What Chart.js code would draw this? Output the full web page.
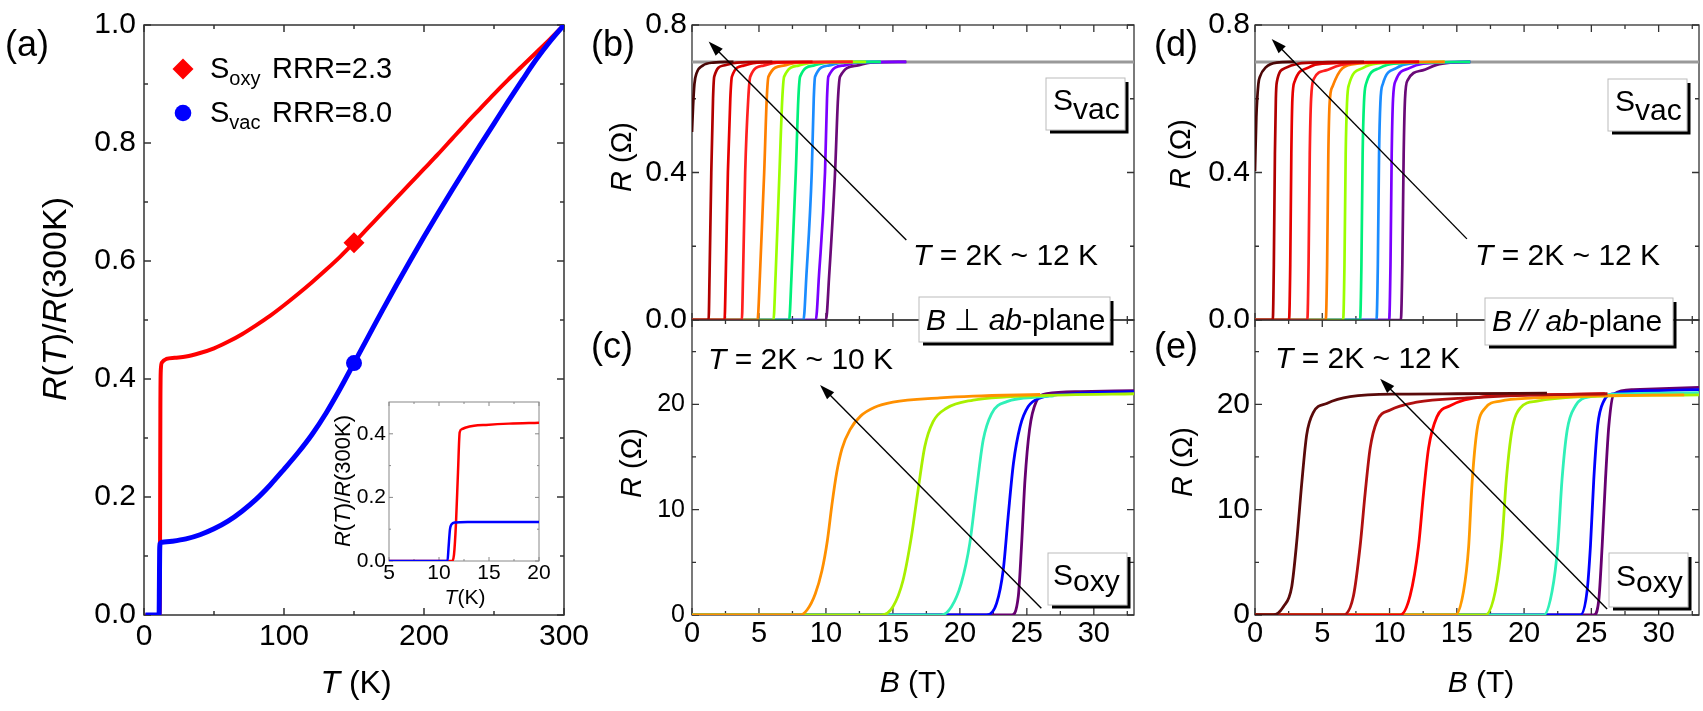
<!DOCTYPE html>
<html>
<head>
<meta charset="utf-8">
<script src="https://cdn.jsdelivr.net/npm/chart.js@4.4.1/dist/chart.umd.min.js"></script>
<style>
html, body { margin: 0; padding: 0; background: #fff; }
#fig { position: relative; width: 1703px; height: 711px; overflow: hidden; }
#fig canvas { position: absolute; left: 0; top: 0; width: 1703px; height: 711px; }
#ann { position: absolute; left: 0; top: 0; }
</style>
</head>
<body>
<div id="fig">
  <canvas id="chartA" width="1703" height="711"></canvas>
  <canvas id="chartIn" width="1703" height="711"></canvas>
  <canvas id="chartB" width="1703" height="711"></canvas>
  <canvas id="chartC" width="1703" height="711"></canvas>
  <canvas id="chartD" width="1703" height="711"></canvas>
  <canvas id="chartE" width="1703" height="711"></canvas>
  <svg id="ann" width="1703" height="711" font-family="'Liberation Sans', Arial, sans-serif" fill="#000">
    <g id="boxes"></g>
    <g font-size="36">
      <text x="5" y="56">(a)</text>
      <text x="591" y="56">(b)</text>
      <text x="591" y="358">(c)</text>
      <text x="1154" y="56">(d)</text>
      <text x="1154" y="358">(e)</text>
    </g>
    <!-- (a) titles and legend -->
    <text transform="translate(66,299) rotate(-90)" text-anchor="middle" font-size="34"><tspan font-style="italic">R</tspan>(<tspan font-style="italic">T</tspan>)/<tspan font-style="italic">R</tspan>(300K)</text>
    <text x="356" y="693" text-anchor="middle" font-size="32"><tspan font-style="italic">T</tspan> (K)</text>
    <polygon points="172.5,69 183,58.5 193.5,69 183,79.5" fill="#ff0000"/>
    <circle cx="183" cy="113" r="8.3" fill="#0000ff"/>
    <text x="210" y="78" font-size="29">S<tspan font-size="20" dy="7">oxy</tspan><tspan x="272" dy="-7">RRR=2.3</tspan></text>
    <text x="210" y="122" font-size="29">S<tspan font-size="20" dy="7">vac</tspan><tspan x="272" dy="-7">RRR=8.0</tspan></text>
    <!-- inset titles -->
    <text transform="translate(350,481) rotate(-90)" text-anchor="middle" font-size="22"><tspan font-style="italic">R</tspan>(<tspan font-style="italic">T</tspan>)/<tspan font-style="italic">R</tspan>(300K)</text>
    <text x="465" y="604" text-anchor="middle" font-size="21"><tspan font-style="italic">T</tspan>(K)</text>
    <!-- (b)-(e) axis titles -->
    <text transform="translate(631,157) rotate(-90)" text-anchor="middle" font-size="29"><tspan font-style="italic">R</tspan> (Ω)</text>
    <text transform="translate(641,463) rotate(-90)" text-anchor="middle" font-size="29"><tspan font-style="italic">R</tspan> (Ω)</text>
    <text transform="translate(1190,154) rotate(-90)" text-anchor="middle" font-size="29"><tspan font-style="italic">R</tspan> (Ω)</text>
    <text transform="translate(1192,462) rotate(-90)" text-anchor="middle" font-size="29"><tspan font-style="italic">R</tspan> (Ω)</text>
    <text x="913" y="692" text-anchor="middle" font-size="30"><tspan font-style="italic">B</tspan> (T)</text>
    <text x="1481" y="692" text-anchor="middle" font-size="30"><tspan font-style="italic">B</tspan> (T)</text>
    <!-- temperature notes -->
    <g font-size="30">
      <text x="913" y="265"><tspan font-style="italic">T</tspan> = 2K ~ 12 K</text>
      <text x="708" y="369"><tspan font-style="italic">T</tspan> = 2K ~ 10 K</text>
      <text x="1475" y="265"><tspan font-style="italic">T</tspan> = 2K ~ 12 K</text>
      <text x="1275" y="368"><tspan font-style="italic">T</tspan> = 2K ~ 12 K</text>
    </g>
    <g id="boxText" font-size="30">
      <text x="1053" y="110">S<tspan dy="9">vac</tspan></text>
      <text x="1053" y="585">S<tspan dy="6">oxy</tspan></text>
      <text x="1615" y="111">S<tspan dy="9">vac</tspan></text>
      <text x="1616" y="586">S<tspan dy="6">oxy</tspan></text>
      <text x="926" y="330"><tspan font-style="italic">B</tspan> ⊥ <tspan font-style="italic">ab</tspan>-plane</text>
      <text x="1492" y="331"><tspan font-style="italic">B</tspan> <tspan font-style="italic">//</tspan> <tspan font-style="italic">ab</tspan>-plane</text>
    </g>
  </svg>
</div>
<script>
// ---- (a) R(T)/R(300K) vs T ----
const tOxy = [1, 11.0, 11.3, 11.5, 11.7, 12.0, 12.8, 16, 22, 30, 40, 50, 60, 70, 80, 90, 100, 110, 120, 130, 140, 150, 160, 170, 180, 190, 200, 210, 220, 230, 240, 250, 260, 270, 280, 290, 300];
const rOxy = [0, 0, 0.02, 0.15, 0.35, 0.415, 0.428, 0.434, 0.436, 0.438, 0.444, 0.452, 0.463, 0.476, 0.491, 0.507, 0.525, 0.544, 0.564, 0.585, 0.607, 0.631, 0.656, 0.681, 0.706, 0.731, 0.756, 0.781, 0.807, 0.833, 0.858, 0.883, 0.907, 0.930, 0.953, 0.976, 1.0];
const tVac = [1, 10.8, 11.0, 11.2, 11.5, 13, 20, 30, 40, 50, 60, 70, 80, 90, 100, 110, 120, 130, 140, 150, 160, 170, 180, 190, 200, 210, 220, 230, 240, 250, 260, 270, 280, 290, 300];
const rVac = [0, 0, 0.05, 0.11, 0.121, 0.1232, 0.125, 0.129, 0.136, 0.146, 0.159, 0.176, 0.196, 0.220, 0.247, 0.275, 0.306, 0.342, 0.383, 0.427, 0.471, 0.515, 0.558, 0.600, 0.641, 0.681, 0.720, 0.758, 0.796, 0.833, 0.870, 0.906, 0.941, 0.972, 1.0];
const markT = [150];
const markOxy = [0.631];
const markVac = [0.427];

// ---- inset ----
const tInOxy = [5, 11.3, 11.5, 11.7, 11.9, 12.07, 12.3, 12.7, 13.5, 14.7, 17, 20];
const rInOxy = [0, 0, 0.02, 0.12, 0.28, 0.405, 0.415, 0.42, 0.425, 0.428, 0.432, 0.435];
const tInVac = [5, 10.85, 10.95, 11.1, 11.25, 11.6, 13, 20];
const rInVac = [0, 0, 0.04, 0.1, 0.115, 0.121, 0.1225, 0.123];

// ---- (b) S_vac, B perpendicular: [B (T), R (ohm)] ----
const b11K = [[0, 0.51], [0.08, 0.58], [0.18, 0.64], [0.35, 0.67], [0.8, 0.69], [1.6, 0.698], [3.1, 0.7]];
const b10K = [[0, 0], [1.24, 0], [1.31, 0.12], [1.44, 0.4], [1.57, 0.6], [1.66, 0.66], [2.36, 0.69], [3.36, 0.698], [6, 0.7]];
const b9K = [[0, 0], [2.43, 0], [2.52, 0.12], [2.68, 0.4], [2.86, 0.6], [2.98, 0.66], [3.85, 0.69], [4.85, 0.698], [9, 0.7]];
const b8K = [[0, 0], [3.72, 0], [3.81, 0.12], [3.97, 0.4], [4.2, 0.6], [4.35, 0.66], [5.34, 0.69], [6.34, 0.698], [12, 0.7]];
const b7K = [[0, 0], [4.89, 0], [5.07, 0.12], [5.39, 0.4], [5.58, 0.6], [5.71, 0.66], [6.83, 0.69], [7.83, 0.698], [12, 0.7]];
const b6K = [[0, 0], [6.08, 0], [6.24, 0.12], [6.53, 0.4], [6.74, 0.6], [6.88, 0.66], [7.95, 0.69], [8.95, 0.698], [13, 0.7]];
const b5K = [[0, 0], [7.25, 0], [7.43, 0.12], [7.75, 0.4], [7.94, 0.6], [8.07, 0.66], [9.07, 0.69], [10.07, 0.698], [14.1, 0.7]];
const b4K = [[0, 0], [8.32, 0], [8.54, 0.12], [8.94, 0.4], [9.09, 0.6], [9.19, 0.66], [10.18, 0.69], [11.18, 0.698], [14.1, 0.7]];
const b3K = [[0, 0], [9.24, 0], [9.48, 0.12], [9.93, 0.4], [10.08, 0.6], [10.18, 0.66], [11.3, 0.69], [12.3, 0.698], [16, 0.7]];
const b2K = [[0, 0], [10.0, 0], [10.24, 0.12], [10.68, 0.4], [10.9, 0.6], [11.05, 0.66], [12.3, 0.69], [13.3, 0.698], [16, 0.7]];
const b12K = [[0, 0.7], [33, 0.7]];

// ---- (c) S_oxy, B perpendicular ----
const c10K = [[0, 0], [8.07, 0], [8.6, 0.5], [9.2, 2.0], [9.7, 4.2], [10.1, 7.0], [10.45, 10.5], [10.8, 13.5], [11.2, 15.8], [11.8, 17.6], [12.6, 18.9], [13.6, 19.7], [15, 20.2], [18.5, 20.6], [21.0, 20.77], [26, 20.93]];
const c8K = [[0, 0], [14.16, 0], [15.0, 0.78], [15.76, 3.3], [16.38, 7.44], [16.88, 11.87], [17.38, 15.98], [18.0, 18.35], [19.0, 19.62], [21.0, 20.4], [23.5, 20.7], [28, 20.9], [33, 21.0]];
const c6K = [[0, 0], [18.62, 0], [19.37, 0.78], [20.1, 3.0], [20.74, 6.8], [21.24, 11.87], [21.74, 16.6], [22.36, 19.1], [23.5, 20.25], [26, 20.7], [27, 20.8]];
const c4K = [[0, 0], [22.0, 0], [22.74, 1.1], [23.24, 4.3], [23.6, 9.3], [24.0, 14.4], [24.5, 17.9], [25.1, 19.78], [26.0, 20.6], [28.5, 21.0], [33, 21.2]];
const c2K = [[0, 0], [23.86, 0], [24.36, 1.74], [24.6, 6.5], [24.86, 12.8], [25.2, 17.6], [25.7, 20.25], [26.5, 21.0], [29, 21.2], [33, 21.3]];

// ---- (d) S_vac, B parallel ----
const d11K = [[0, 0.404], [0.1, 0.55], [0.25, 0.64], [0.37, 0.66], [0.8, 0.685], [1.61, 0.698], [2.9, 0.7]];
const d10K = [[0, 0], [1.32, 0], [1.4, 0.15], [1.48, 0.45], [1.55, 0.6], [1.62, 0.645], [2.23, 0.683], [3.2, 0.695], [5, 0.699], [8.1, 0.7]];
const d9K = [[0, 0], [2.53, 0], [2.62, 0.15], [2.7, 0.45], [2.78, 0.6], [2.95, 0.647], [4.0, 0.685], [5.0, 0.695], [12.2, 0.7]];
const d8K = [[0, 0], [3.89, 0], [3.98, 0.15], [4.07, 0.45], [4.17, 0.6], [4.39, 0.655], [5.26, 0.677], [6.25, 0.69], [7.5, 0.697], [12.2, 0.7]];
const d7K = [[0, 0], [5.26, 0], [5.36, 0.15], [5.45, 0.45], [5.55, 0.59], [5.77, 0.634], [6.5, 0.683], [7.6, 0.695], [14.1, 0.7]];
const d6K = [[0, 0], [6.55, 0], [6.65, 0.15], [6.74, 0.45], [6.84, 0.59], [7.0, 0.64], [8.0, 0.683], [9.0, 0.695], [14.1, 0.7]];
const d5K = [[0, 0], [7.81, 0], [7.91, 0.15], [8.0, 0.45], [8.1, 0.59], [8.25, 0.64], [9.25, 0.683], [10.3, 0.695], [16, 0.7]];
const d4K = [[0, 0], [9.03, 0], [9.13, 0.15], [9.22, 0.45], [9.32, 0.59], [9.5, 0.64], [10.5, 0.683], [11.5, 0.695], [16, 0.7]];
const d3K = [[0, 0], [9.97, 0], [10.07, 0.15], [10.16, 0.45], [10.26, 0.6], [10.47, 0.65], [11.47, 0.683], [12.5, 0.695], [16, 0.7]];
const d2K = [[0, 0], [10.84, 0], [10.95, 0.15], [11.05, 0.45], [11.15, 0.6], [11.34, 0.65], [12.45, 0.677], [13.5, 0.692], [14.5, 0.698], [16, 0.7]];
const d12K = [[0, 0.7], [33, 0.7]];

// ---- (e) S_oxy, B parallel ----
const e12K = [[0, 0], [1.36, 0], [2.11, 0.78], [2.73, 2.69], [3.1, 6.93], [3.47, 12.44], [3.84, 17.1], [4.34, 19.23], [5.33, 20.08], [7.07, 20.72], [10.79, 20.97], [15, 21.0], [21.7, 21.05]];
const e10K = [[0, 0], [6.57, 0], [7.32, 1.83], [7.81, 6.5], [8.19, 11.6], [8.56, 15.84], [9.06, 18.38], [10.05, 19.45], [12.03, 20.2], [15.75, 20.6], [20, 20.85], [26.2, 21.0]];
const e9K = [[0, 0], [10.79, 0], [11.53, 1.83], [12.15, 6.5], [12.53, 11.6], [12.9, 15.84], [13.52, 18.8], [14.5, 19.86], [17.0, 20.72], [21, 20.9], [26, 21.0]];
const e8K = [[0, 0], [14.88, 0], [15.5, 2.26], [15.88, 6.5], [16.13, 12.44], [16.5, 17.54], [17.12, 19.66], [18.24, 20.3], [20.7, 20.6], [25, 20.8], [31.9, 20.9]];
const e7K = [[0, 0], [17.11, 0], [17.86, 2.26], [18.35, 6.93], [18.68, 12.87], [19.1, 17.54], [19.72, 19.66], [20.96, 20.3], [24, 20.7], [33, 20.9]];
const e5K = [[0, 0], [21.46, 0], [22.08, 2.26], [22.5, 6.5], [22.82, 12.87], [23.2, 17.54], [23.82, 19.86], [24.94, 20.72], [28, 21.0], [33, 21.1]];
const e3K = [[0, 0], [24.18, 0], [24.68, 2.26], [24.93, 6.5], [25.18, 12.87], [25.47, 17.97], [25.92, 20.3], [26.67, 21.0], [30, 21.3], [33, 21.4]];
const e2K = [[0, 0], [25.18, 0], [25.55, 1.4], [25.8, 6.5], [26.05, 12.87], [26.3, 17.97], [26.67, 20.97], [28.1, 21.4], [33, 21.6]];

// ---- tick values ----
const tickA_x = [0, 100, 200, 300];
const tickA_xMinor = [50, 150, 250];
const tickA_y = [0, 0.2, 0.4, 0.6, 0.8, 1.0];
const tickA_yMinor = [0.1, 0.3, 0.5, 0.7, 0.9];
const tickIn_x = [5, 10, 15, 20];
const tickIn_xMinor = [7.5, 12.5, 17.5];
const tickIn_y = [0, 0.2, 0.4];
const tickIn_yMinor = [0.1, 0.3];
const tickB_x = [0, 5, 10, 15, 20, 25, 30];
const tickB_xMinor = [2.5, 7.5, 12.5, 17.5, 22.5, 27.5, 32.5];
const tickTop_y = [0, 0.4, 0.8];
const tickTop_yMinor = [0.2, 0.6];
const tickBot_y = [0, 10, 20];
const tickBot_yMinor = [5, 15, 25];

Chart.defaults.font.family = '"Liberation Sans", Arial, sans-serif';
Chart.defaults.color = '#000';

// frame with inward ticks on all four sides
const framePlugin = {
    id: 'frame',
    beforeDatasetsDraw(chart, args, o) {
        const ctx = chart.ctx;
        const a = chart.chartArea;
        const sx = chart.scales.x, sy = chart.scales.y;
        ctx.save();
        if (o.fill) {
            ctx.fillStyle = o.fill;
            ctx.fillRect(a.left, a.top, a.right - a.left, a.bottom - a.top);
        }
        ctx.strokeStyle = o.color;
        ctx.lineWidth = o.width;
        ctx.strokeRect(a.left, a.top, a.right - a.left, a.bottom - a.top);
        ctx.beginPath();
        const tickX = (vals, len) => vals.forEach(v => {
            const p = sx.getPixelForValue(v);
            ctx.moveTo(p, a.bottom); ctx.lineTo(p, a.bottom - len);
            ctx.moveTo(p, a.top); ctx.lineTo(p, a.top + len);
        });
        const tickY = (vals, len) => vals.forEach(v => {
            const p = sy.getPixelForValue(v);
            ctx.moveTo(a.left, p); ctx.lineTo(a.left + len, p);
            ctx.moveTo(a.right, p); ctx.lineTo(a.right - len, p);
        });
        tickX(o.xMajor, o.major); tickX(o.xMinor, o.minor);
        tickY(o.yMajor, o.major); tickY(o.yMinor, o.minor);
        ctx.stroke();
        ctx.restore();
    }
};

// arrow given in data coordinates
const arrowPlugin = {
    id: 'arrow',
    afterDatasetsDraw(chart, args, o) {
        if (!o || !o.from) return;
        const ctx = chart.ctx;
        const sx = chart.scales.x, sy = chart.scales.y;
        const x1 = sx.getPixelForValue(o.from[0]), y1 = sy.getPixelForValue(o.from[1]);
        const x2 = sx.getPixelForValue(o.to[0]), y2 = sy.getPixelForValue(o.to[1]);
        const ang = Math.atan2(y2 - y1, x2 - x1);
        const L = 15, W = 5;
        const c = Math.cos(ang), s = Math.sin(ang);
        ctx.save();
        ctx.strokeStyle = '#000';
        ctx.fillStyle = '#000';
        ctx.lineWidth = 1.4;
        ctx.beginPath();
        ctx.moveTo(x1, y1);
        ctx.lineTo(x2 - L * 0.8 * c, y2 - L * 0.8 * s);
        ctx.stroke();
        ctx.beginPath();
        ctx.moveTo(x2, y2);
        ctx.lineTo(x2 - L * c + W * s, y2 - L * s - W * c);
        ctx.lineTo(x2 - L * c - W * s, y2 - L * s + W * c);
        ctx.closePath();
        ctx.fill();
        ctx.restore();
    }
};

function xy(xs, ys) {
    return xs.map((x, i) => ({ x: x, y: ys[i] }));
}

function curve(pts, color, w) {
    return {
        data: pts.map(p => ({ x: p[0], y: p[1] })),
        borderColor: color,
        borderWidth: w,
        pointRadius: 0,
        fill: false,
        cubicInterpolationMode: 'monotone'
    };
}

function makePanel(id, p) {
    return new Chart(document.getElementById(id), {
        type: 'line',
        data: { datasets: p.datasets },
        options: {
            responsive: false,
            animation: false,
            devicePixelRatio: 1,
            events: [],
            layout: { padding: p.pad },
            plugins: {
                legend: { display: false },
                tooltip: { enabled: false },
                frame: p.frame,
                arrow: p.arrow || {}
            },
            scales: {
                x: {
                    type: 'linear',
                    min: p.xMin,
                    max: p.xMax,
                    display: p.xShow,
                    afterBuildTicks: s => { s.ticks = p.xTicks.map(v => ({ value: v })); },
                    afterFit: s => { s.height = p.xH; },
                    grid: { display: false, drawTicks: false },
                    border: { display: false },
                    ticks: { font: { size: p.xFont, lineHeight: 1 }, padding: p.xPad, color: '#000', callback: v => String(v) }
                },
                y: {
                    type: 'linear',
                    min: p.yMin,
                    max: p.yMax,
                    afterBuildTicks: s => { s.ticks = p.yTicks.map(v => ({ value: v })); },
                    afterFit: s => { s.width = p.yW; },
                    grid: { display: false, drawTicks: false },
                    border: { display: false },
                    ticks: { font: { size: p.yFont, lineHeight: 1 }, padding: p.yPad, color: '#000', callback: p.yFmt }
                }
            }
        },
        plugins: [framePlugin, arrowPlugin]
    });
}

const fmt1 = v => Number(v).toFixed(1);
const fmt0 = v => String(v);

// (a)
makePanel('chartA', {
    pad: { left: 84, top: 25, right: 1139, bottom: 46 },
    xMin: 0, xMax: 300, xShow: true, xTicks: tickA_x, xH: 50, xFont: 30, xPad: 7,
    yMin: 0, yMax: 1, yTicks: tickA_y, yW: 60, yFont: 30, yPad: 8, yFmt: fmt1,
    frame: { color: '#333', width: 1.5, major: 7, minor: 4, xMajor: tickA_x, xMinor: tickA_xMinor, yMajor: tickA_y, yMinor: tickA_yMinor },
    datasets: [
        { data: xy(markT, markOxy), showLine: false, pointStyle: 'rectRot', pointRadius: 10.5, backgroundColor: '#ff0000', borderWidth: 0, order: 0 },
        { data: xy(markT, markVac), showLine: false, pointStyle: 'circle', pointRadius: 8, backgroundColor: '#0000ff', borderWidth: 0, order: 0 },
        Object.assign(curve([], '#0000ff', 5), { data: xy(tVac, rVac), order: 1 }),
        Object.assign(curve([], '#ff0000', 4), { data: xy(tOxy, rOxy), order: 2 })
    ]
});

// inset
makePanel('chartIn', {
    pad: { left: 349, top: 402, right: 1164, bottom: 120 },
    xMin: 5, xMax: 20, xShow: true, xTicks: tickIn_x, xH: 30, xFont: 21, xPad: 2,
    yMin: 0, yMax: 0.5, yTicks: tickIn_y, yW: 40, yFont: 21, yPad: 3, yFmt: fmt1,
    frame: { color: '#888', width: 1, fill: '#fff', major: 4, minor: 2, xMajor: tickIn_x, xMinor: tickIn_xMinor, yMajor: tickIn_y, yMinor: tickIn_yMinor },
    datasets: [
        Object.assign(curve([], '#0000ff', 2.5), { data: xy(tInVac, rInVac) }),
        Object.assign(curve([], '#ff0000', 2.5), { data: xy(tInOxy, rInOxy) })
    ]
});

// (b)
makePanel('chartB', {
    pad: { left: 632, top: 25, right: 569, bottom: 391 },
    xMin: 0, xMax: 33, xShow: false, xTicks: tickB_x, xH: 0, xFont: 29, xPad: 4,
    yMin: 0, yMax: 0.8, yTicks: tickTop_y, yW: 60, yFont: 30, yPad: 5, yFmt: fmt1,
    frame: { color: '#333', width: 1.3, major: 7, minor: 4, xMajor: tickB_x, xMinor: tickB_xMinor, yMajor: tickTop_y, yMinor: tickTop_yMinor },
    arrow: { from: [16.0, 0.217], to: [1.24, 0.755] },
    datasets: [
        curve(b11K, '#4a0606', 2.7),
        curve(b10K, '#b00000', 2.7),
        curve(b9K, '#e60000', 2.7),
        curve(b8K, '#ff1f1f', 2.7),
        curve(b7K, '#ff8000', 2.7),
        curve(b6K, '#9cff00', 2.7),
        curve(b5K, '#00f07a', 2.7),
        curve(b4K, '#1a8cff', 2.7),
        curve(b3K, '#7a00ff', 2.7),
        curve(b2K, '#6a0a78', 2.7),
        curve(b12K, '#999999', 3)
    ]
});

// (c)
makePanel('chartC', {
    pad: { left: 632, top: 320, right: 569, bottom: 46 },
    xMin: 0, xMax: 33, xShow: true, xTicks: tickB_x, xH: 50, xFont: 29, xPad: 4,
    yMin: 0, yMax: 28, yTicks: tickBot_y, yW: 60, yFont: 25, yPad: 7, yFmt: fmt0,
    frame: { color: '#333', width: 1.3, major: 7, minor: 4, xMajor: tickB_x, xMinor: tickB_xMinor, yMajor: tickBot_y, yMinor: tickBot_yMinor },
    arrow: { from: [26.08, 0.64], to: [9.56, 21.83] },
    datasets: [
        curve(c10K, '#ff9000', 2.8),
        curve(c8K, '#a8f000', 2.8),
        curve(c6K, '#30f0b8', 2.8),
        curve(c4K, '#0000ff', 2.8),
        curve(c2K, '#660070', 2.8)
    ]
});

// (d)
makePanel('chartD', {
    pad: { left: 1195, top: 25, right: 4, bottom: 391 },
    xMin: 0, xMax: 33, xShow: false, xTicks: tickB_x, xH: 0, xFont: 29, xPad: 4,
    yMin: 0, yMax: 0.8, yTicks: tickTop_y, yW: 60, yFont: 30, yPad: 5, yFmt: fmt1,
    frame: { color: '#333', width: 1.3, major: 7, minor: 4, xMajor: tickB_x, xMinor: tickB_xMinor, yMajor: tickTop_y, yMinor: tickTop_yMinor },
    arrow: { from: [15.75, 0.22], to: [1.24, 0.762] },
    datasets: [
        curve(d11K, '#4a0606', 2.7),
        curve(d10K, '#b00000', 2.7),
        curve(d9K, '#e60000', 2.7),
        curve(d8K, '#ff1f1f', 2.7),
        curve(d7K, '#ff8000', 2.7),
        curve(d6K, '#9cff00', 2.7),
        curve(d5K, '#00f07a', 2.7),
        curve(d4K, '#1a8cff', 2.7),
        curve(d3K, '#7a00ff', 2.7),
        curve(d2K, '#6a0a78', 2.7),
        curve(d12K, '#999999', 3)
    ]
});

// (e)
makePanel('chartE', {
    pad: { left: 1195, top: 320, right: 4, bottom: 46 },
    xMin: 0, xMax: 33, xShow: true, xTicks: tickB_x, xH: 50, xFont: 29, xPad: 4,
    yMin: 0, yMax: 28, yTicks: tickBot_y, yW: 60, yFont: 30, yPad: 5, yFmt: fmt0,
    frame: { color: '#333', width: 1.3, major: 7, minor: 4, xMajor: tickB_x, xMinor: tickB_xMinor, yMajor: tickBot_y, yMinor: tickBot_yMinor },
    arrow: { from: [26.17, 0.57], to: [9.3, 22.42] },
    datasets: [
        curve(e12K, '#5a0a0a', 2.8),
        curve(e10K, '#b01010', 2.8),
        curve(e9K, '#ff0000', 2.8),
        curve(e8K, '#ff9a00', 2.8),
        curve(e7K, '#a8f000', 2.8),
        curve(e5K, '#30f0b8', 2.8),
        curve(e3K, '#0000ff', 2.8),
        curve(e2K, '#660070', 2.8)
    ]
});

// label boxes with drop shadow
const boxes = [[1046, 78, 79, 52], [1048, 553, 79, 52], [1608, 79, 79, 52], [1609, 553, 79, 54], [919, 297, 191, 45], [1485, 298, 188, 47]];
const g = document.getElementById('boxes');
const NS = 'http://www.w3.org/2000/svg';
boxes.forEach(b => {
    const r = document.createElementNS(NS, 'rect');
    r.setAttribute('x', b[0]); r.setAttribute('y', b[1]);
    r.setAttribute('width', b[2]); r.setAttribute('height', b[3]);
    r.setAttribute('fill', '#fff'); r.setAttribute('stroke', '#bbb'); r.setAttribute('stroke-width', '1');
    g.appendChild(r);
    const s = document.createElementNS(NS, 'path');
    const R = b[0] + b[2] + 2, B = b[1] + b[3] + 2;
    s.setAttribute('d', 'M' + R + ',' + (b[1] + 4) + ' V' + B + ' H' + (b[0] + 4));
    s.setAttribute('stroke', '#000'); s.setAttribute('stroke-width', '3'); s.setAttribute('fill', 'none');
    g.appendChild(s);
});
</script>
</body>
</html>
